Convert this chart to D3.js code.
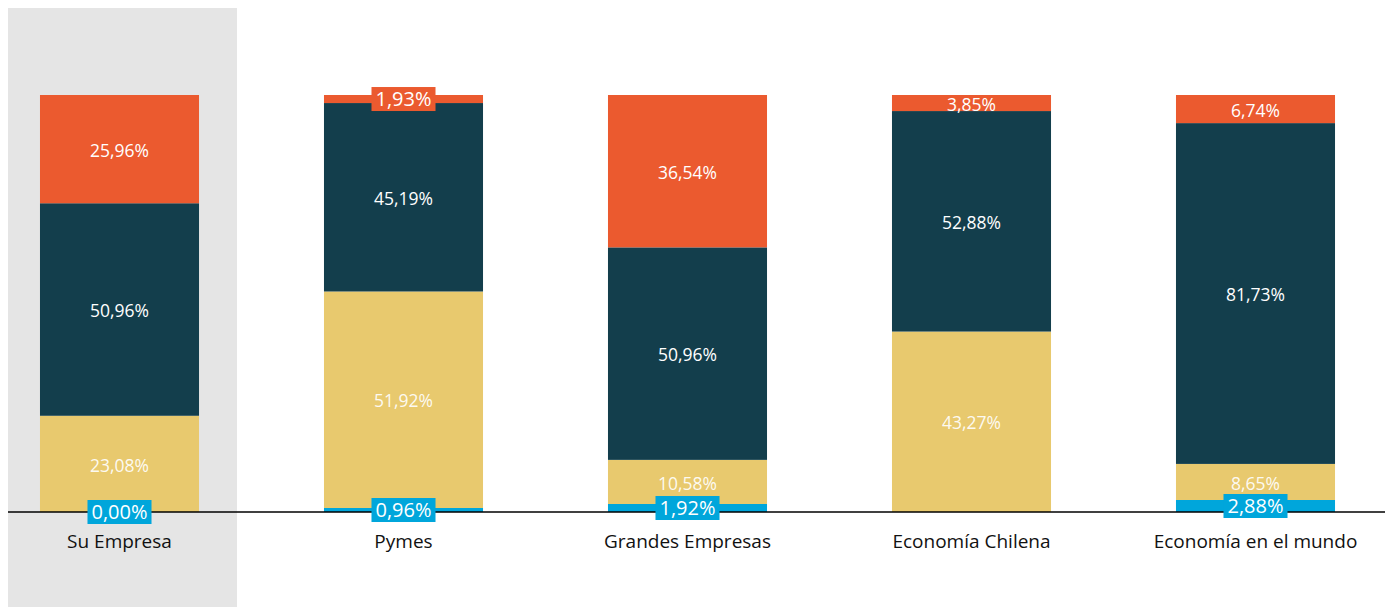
<!DOCTYPE html>
<html><head><meta charset="utf-8">
<script src="https://cdn.jsdelivr.net/npm/d3@7/dist/d3.min.js"></script>
<style>body{margin:0;background:#fff}svg{display:block}</style>
</head><body>
<svg id="c" width="1388" height="607"></svg>
<script>
const categories = ["Su Empresa", "Pymes", "Grandes Empresas", "Economía Chilena", "Economía en el mundo"];
const seriesNames = ["s1", "s2", "s3", "s4"];
const s1 = [0.00, 0.96, 1.92, null, 2.88];
const s2 = [23.08, 51.92, 10.58, 43.27, 8.65];
const s3 = [50.96, 45.19, 50.96, 52.88, 81.73];
const s4 = [25.96, 1.93, 36.54, 3.85, 6.74];
const colors = ["#00A6DB", "#E8C96E", "#133E4C", "#EB5A2F"];

const series = [s1, s2, s3, s4];
const rows = categories.map((c, i) => {
  const r = {cat: c};
  seriesNames.forEach((k, j) => { r[k] = series[j][i]; });
  return r;
});
const stack = d3.stack().keys(seriesNames).value((d, k) => d[k] == null ? 0 : d[k])(rows);

const svg = d3.select("#c");
const x = d3.scaleBand().domain(categories).range([-22.5, 1397.5]).paddingInner(0.44).paddingOuter(0.22);
const y = d3.scaleLinear().domain([0, 100]).range([512, 95]);

// highlight for first category
const cx0 = x(categories[0]) + x.bandwidth() / 2;
svg.append("rect").attr("x", cx0 - 111.5).attr("y", 8).attr("width", 229).attr("height", 599).attr("fill", "#E5E5E5");

const fmt = v => v.toFixed(2).replace(".", ",") + "%";

stack.forEach((layer, li) => {
  svg.append("g").selectAll("rect").data(layer.filter(d => d.data[layer.key] != null)).join("rect")
    .attr("x", d => x(d.data.cat))
    .attr("width", x.bandwidth())
    .attr("y", d => y(d[1]))
    .attr("height", d => y(d[0]) - y(d[1]))
    .attr("fill", colors[li]);
});

// axis line
svg.append("line").attr("x1", 8).attr("x2", 1385).attr("y1", y(0)).attr("y2", y(0)).attr("stroke", "#000").attr("stroke-width", 1.5);

// labels
stack.forEach((layer, li) => {
  layer.forEach(d => {
    if (d.data[layer.key] == null) return;
    const v = d.data[layer.key];
    const cx = x(d.data.cat) + x.bandwidth() / 2;
    const cy = (y(d[0]) + y(d[1])) / 2;
    const boxed = v < 3;
    const g = svg.append("g");
    const t = g.append("text").attr("x", cx).attr("y", boxed ? cy : cy + 1.5).attr("dy", "0.35em")
      .attr("text-anchor", "middle")
      .attr("font-family", "'Open Sans', sans-serif")
      .attr("font-size", boxed ? 20 : 17.5)
      .attr("fill", "#fff")
      .attr("fill-opacity", li === 1 ? 0.92 : 1)
      .text(fmt(v));
    if (boxed) {
      const bb = t.node().getBBox();
      g.insert("rect", "text").attr("x", cx - (bb.width + 8) / 2).attr("y", cy - 12)
        .attr("width", bb.width + 8).attr("height", 24).attr("fill", colors[li]);
    }
  });
});

// category labels
svg.append("g").selectAll("text").data(categories).join("text")
  .attr("x", d => x(d) + x.bandwidth() / 2)
  .attr("y", 548)
  .attr("text-anchor", "middle")
  .attr("font-family", "'Open Sans', sans-serif")
  .attr("font-size", 19)
  .attr("fill", "#111")
  .text(d => d);
</script>
</body></html>
